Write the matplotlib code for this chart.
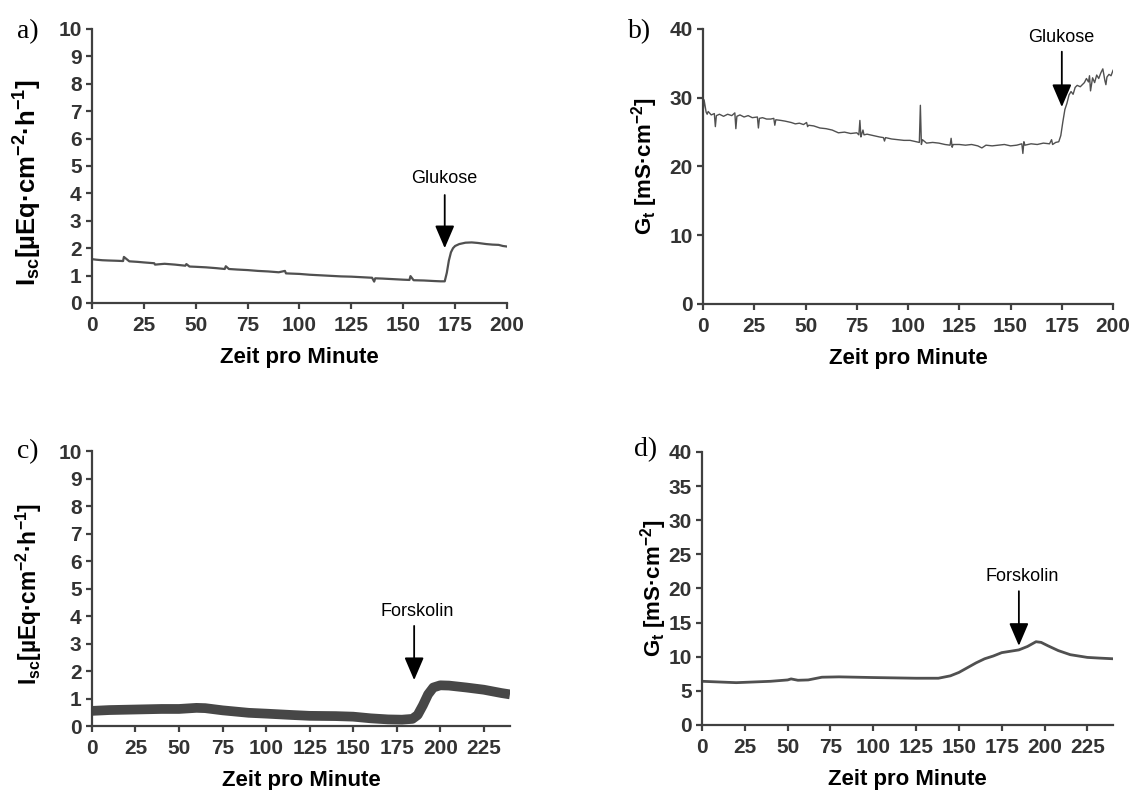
import matplotlib.pyplot as plt

plt.rcParams['font.family'] = 'Liberation Sans'
plt.rcParams['mathtext.fontset'] = 'custom'
plt.rcParams['mathtext.rm'] = 'Liberation Sans:bold'
plt.rcParams['mathtext.it'] = 'Liberation Sans:bold'
plt.rcParams['mathtext.bf'] = 'Liberation Sans:bold'

# a) Isc, Glukose
t_a = [0, 2, 5, 8, 12, 15, 15.4, 18, 22, 25, 30, 30.4, 35, 40, 45, 45.5, 47,
       50, 55, 60, 64, 64.5, 66, 70, 75, 80, 85, 90, 93, 93.5, 100, 105, 110,
       115, 120, 125, 130, 135, 136, 136.5, 140, 145, 150, 153, 153.5, 155,
       160, 165, 168, 170, 171, 172, 173, 174, 175, 177, 180, 183, 186, 190,
       193, 196, 198, 200]
isc_a = [1.60, 1.58, 1.56, 1.55, 1.54, 1.53, 1.68, 1.52, 1.50, 1.48, 1.45,
         1.40, 1.43, 1.40, 1.36, 1.42, 1.33, 1.32, 1.30, 1.27, 1.24, 1.34,
         1.24, 1.22, 1.20, 1.17, 1.15, 1.12, 1.17, 1.08, 1.06, 1.03, 1.01,
         0.99, 0.97, 0.96, 0.94, 0.92, 0.78, 0.90, 0.89, 0.87, 0.85, 0.84,
         0.98, 0.83, 0.82, 0.80, 0.79, 0.79, 1.10, 1.55, 1.85, 2.00, 2.08,
         2.15, 2.20, 2.21, 2.19, 2.15, 2.13, 2.12, 2.08, 2.06]

# b) Gt, Glukose
t_b = [0, 0.5, 1.5, 2, 2.5, 4, 5.5, 6, 6.5, 8,
       10, 12, 14, 15.5, 16, 16.5, 18, 20, 22, 24,
       26.5, 27, 27.5, 29, 31, 33, 34.5, 35, 35.5, 38,
       40, 43, 45, 47, 49, 50.5, 51, 51.5, 54, 57,
       60, 63, 66, 69, 72, 75, 76, 76.5, 77, 77.5,
       78, 78.5, 80, 83, 86, 88, 88.5, 89, 92, 95,
       98, 101, 104, 105.5, 106, 106.5, 107, 109, 112, 115,
       118, 120.5, 121, 121.5, 122, 125, 128, 131, 134, 136,
       138, 141, 144, 147, 150, 153, 155.5, 156, 156.5, 157,
       160, 163, 166, 169, 170, 170.5, 172, 173.5, 174.5, 175.5,
       176.5, 177.5, 178.5, 179.5, 180.5, 181.5, 182.5, 184, 186, 187,
       188, 188.5, 189, 190, 191, 192, 193, 194, 195, 196,
       196.5, 197, 198, 199, 200]
gt_b = [27.8, 29.7, 27.9, 27.6, 28.0, 27.5, 27.7, 25.8, 27.4, 27.6,
        27.3, 27.6, 27.4, 27.8, 25.5, 27.3, 27.5, 27.2, 27.4, 27.1,
        27.2, 25.6, 27.0, 27.1, 26.9, 26.9, 27.0, 26.0, 26.8, 26.7,
        26.6, 26.4, 26.2, 26.3, 26.1, 26.4, 25.8, 26.0, 25.9, 25.6,
        25.5, 25.3, 24.9, 25.0, 24.8, 24.9, 24.6, 26.7, 24.3, 24.8,
        25.3, 24.6, 24.7, 24.5, 24.3, 24.2, 23.7, 24.2, 24.0, 23.9,
        23.8, 23.8, 23.6, 23.5, 28.9, 23.2, 23.9, 23.4, 23.5, 23.4,
        23.2, 23.1, 24.1, 22.8, 23.2, 23.2, 23.1, 23.2, 23.0, 22.7,
        23.1, 23.0, 23.1, 23.2, 23.0, 23.1, 23.3, 21.9, 23.6, 23.1,
        23.3, 23.2, 23.4, 23.3, 23.9, 23.2, 23.5, 23.6, 24.5, 26.5,
        28.3, 29.2, 30.4, 30.9, 30.5, 31.5, 31.8, 31.6, 32.2, 32.8,
        32.3, 33.2, 31.0, 32.9, 32.2, 33.3, 32.8, 33.6, 34.2, 32.5,
        31.9, 33.0, 33.4, 33.2, 34.0]

# c) Isc, Forskolin
t_c = [0, 10, 25, 40, 50, 60, 65, 75, 90, 100, 115, 125, 140, 150, 160,
       170, 178, 184, 187, 190, 193, 196, 200, 205, 215, 225, 235, 240]
isc_c = [0.55, 0.58, 0.60, 0.62, 0.62, 0.66, 0.65, 0.57, 0.48, 0.45, 0.40,
         0.37, 0.36, 0.34, 0.28, 0.24, 0.23, 0.26, 0.40, 0.75, 1.15, 1.40,
         1.48, 1.47, 1.40, 1.32, 1.20, 1.15]

# d) Gt, Forskolin
t_d = [0, 10, 20, 30, 40, 50, 52, 56, 62, 66, 70, 80, 100, 125, 138, 145,
       150, 155, 160, 165, 170, 175, 180, 185, 190, 195, 198, 202, 208, 215,
       225, 232, 240]
gt_d = [6.4, 6.3, 6.2, 6.3, 6.4, 6.6, 6.75, 6.55, 6.6, 6.8, 7.0, 7.05, 6.95,
        6.85, 6.85, 7.2, 7.7, 8.4, 9.1, 9.7, 10.1, 10.6, 10.8, 11.0, 11.5,
        12.2, 12.1, 11.6, 10.9, 10.3, 9.9, 9.8, 9.7]

isc_label = r'I$_{sc}$[µEq·cm$^{-2}$·h$^{-1}$]'
gt_label = r'G$_{t}$ [mS·cm$^{-2}$]'

AXIS_COLOR = '#404040'
LINE_COLOR = '#505050'


def style_axis(ax, xmax, xticks, ymax, yticks, ylabel, ylabel_size, ylabel_pos):
    for side in ('top', 'right'):
        ax.spines[side].set_visible(False)
    for side in ('left', 'bottom'):
        ax.spines[side].set_linewidth(1.6)
        ax.spines[side].set_color(AXIS_COLOR)
    ax.set_xlim(0, xmax)
    ax.set_ylim(0, ymax)
    ax.set_xticks(xticks)
    ax.set_yticks(yticks)
    ax.tick_params(direction='out', length=4.5, width=1.6, color=AXIS_COLOR,
                   labelsize=15, labelcolor='#333333')
    ax.tick_params(axis='x', pad=5)
    ax.tick_params(axis='y', pad=3)
    for lab in ax.get_xticklabels() + ax.get_yticklabels():
        lab.set_fontweight('bold')
    ax.set_xlabel('Zeit pro Minute', fontsize=16, fontweight='bold')
    ax.xaxis.set_label_coords(0.5, -0.16)
    ax.set_ylabel(ylabel, fontsize=ylabel_size, fontweight='bold')
    ax.yaxis.set_label_coords(*ylabel_pos)


def add_marker(ax, x, text_x, text_y, tail_y, tip_y, text):
    ax.text(text_x, text_y, text, ha='center', va='center', fontsize=13)
    ax.annotate('', xy=(x, tip_y), xytext=(x, tail_y),
                arrowprops=dict(arrowstyle='-|>,head_length=0.7,head_width=0.3',
                                color='black', lw=1.3, shrinkA=0, shrinkB=0,
                                mutation_scale=20))


fig = plt.figure(figsize=(11.38, 7.9), dpi=100)

ax_a = fig.add_axes([0.0808, 0.6165, 0.3647, 0.3468])
ax_b = fig.add_axes([0.6178, 0.6152, 0.3603, 0.3481])
ax_c = fig.add_axes([0.0808, 0.0810, 0.3673, 0.3481])
ax_d = fig.add_axes([0.6169, 0.0823, 0.3612, 0.3456])

ax_a.plot(t_a, isc_a, color=LINE_COLOR, lw=1.6)
style_axis(ax_a, 200, range(0, 201, 25), 10, range(0, 11), isc_label, 18.5,
           (-0.115, 0.44))
add_marker(ax_a, 170, 170, 4.53, 3.94, 2.0, 'Glukose')

ax_b.plot(t_b, gt_b, color=LINE_COLOR, lw=1.0)
style_axis(ax_b, 200, range(0, 201, 25), 40, range(0, 41, 10), gt_label, 16,
           (-0.105, 0.5))
add_marker(ax_b, 175, 174.5, 38.8, 36.7, 28.65, 'Glukose')

ax_c.plot(t_c, isc_c, color='#474747', lw=7, solid_capstyle='butt')
style_axis(ax_c, 240, range(0, 226, 25), 10, range(0, 11), isc_label, 16.3,
           (-0.115, 0.48))
add_marker(ax_c, 185, 187, 4.18, 3.64, 1.67, 'Forskolin')

ax_d.plot(t_d, gt_d, color=LINE_COLOR, lw=2.0)
style_axis(ax_d, 240, range(0, 226, 25), 40, range(0, 41, 5), gt_label, 16,
           (-0.08, 0.5))
add_marker(ax_d, 185, 187, 21.8, 19.6, 11.6, 'Forskolin')

# panel letters
for label, (px, py) in zip(['a)', 'b)', 'c)', 'd)'],
                           [(17, 32), (628, 32), (17, 452), (634, 450)]):
    fig.text(px / 1138, 1 - py / 790, label, fontsize=20,
             family='Liberation Serif', ha='left', va='center')

fig.savefig('out.png', dpi=100)
